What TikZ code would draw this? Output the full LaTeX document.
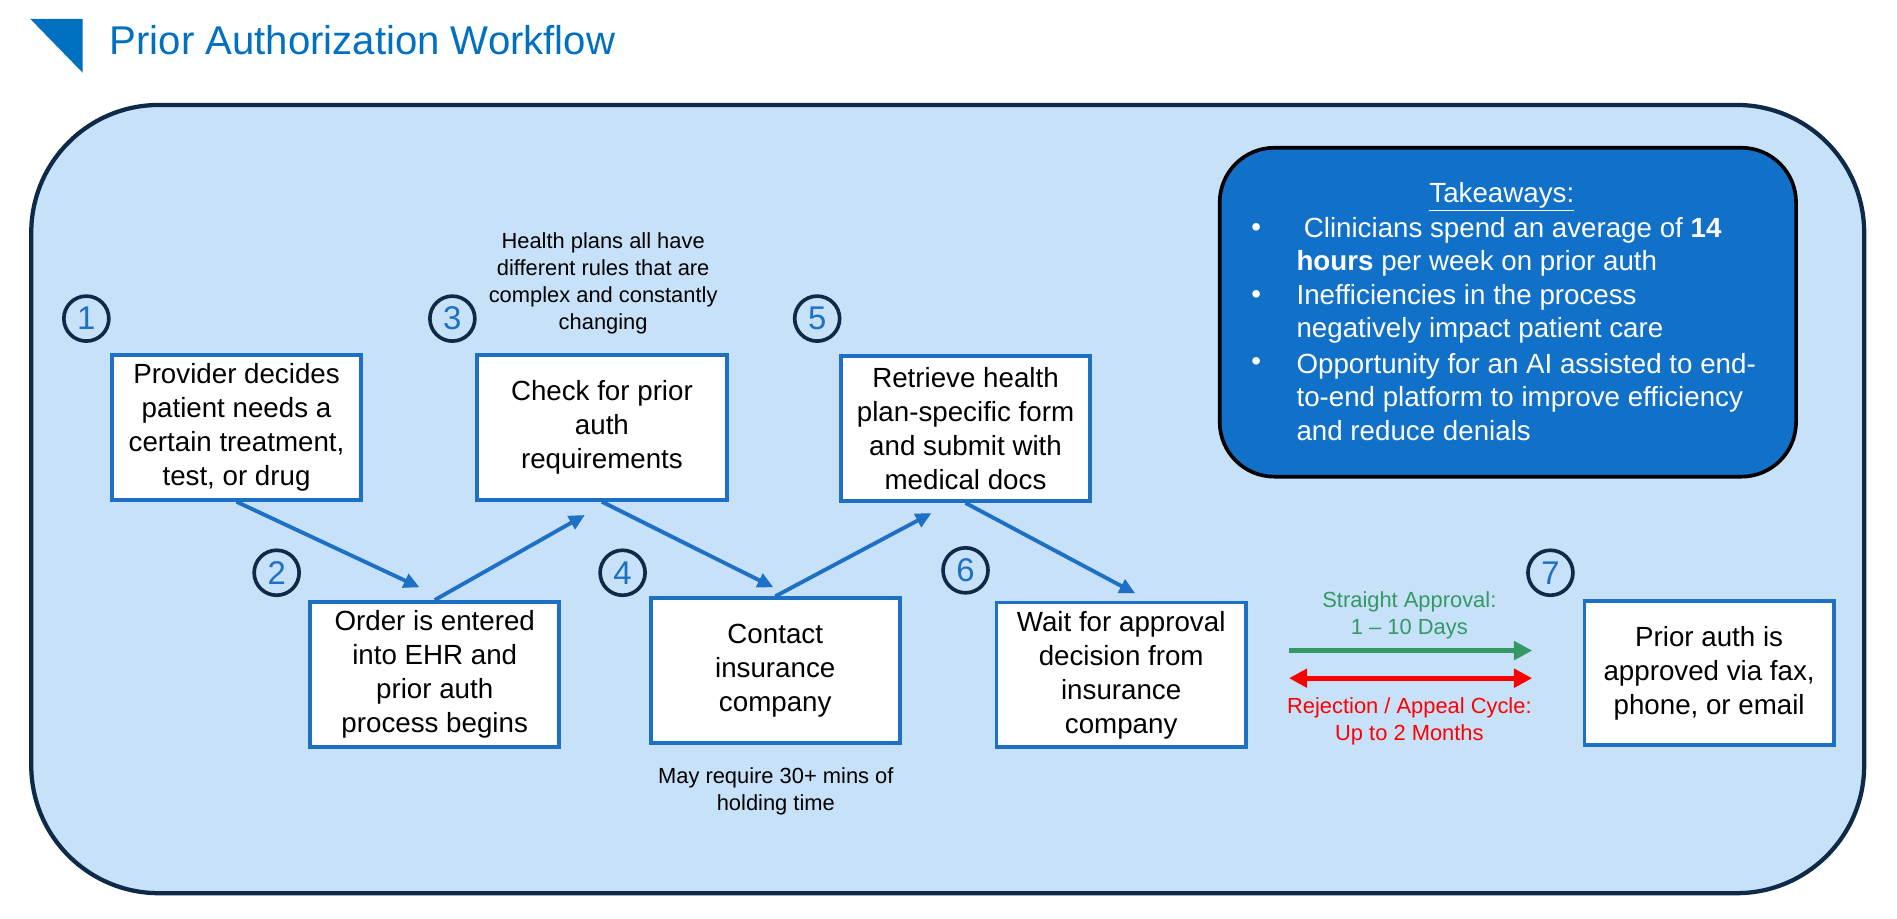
\documentclass[tikz,border=0pt]{standalone}
\usepackage{fontspec}
\setmainfont{Liberation Sans}
\usetikzlibrary{arrows.meta}
\definecolor{bgblue}{RGB}{199,225,248}
\definecolor{navy}{RGB}{14,42,72}
\definecolor{boxblue}{RGB}{30,112,196}
\definecolor{titleblue}{RGB}{0,112,192}
\definecolor{takeblue}{RGB}{17,112,200}
\definecolor{okgreen}{RGB}{52,152,100}
\definecolor{nored}{RGB}{255,0,0}
\begin{document}
\begin{tikzpicture}[x=1pt,y=-1pt,
  stepbox/.style={draw=boxblue, line width=3.2pt, fill=white, minimum width=205pt, minimum height=119pt, inner sep=0pt, align=center, font=\fontsize{22.8}{28}\selectfont},
  numc/.style={circle, draw=navy, line width=3pt, minimum size=37pt, inner sep=0pt, text=boxblue, font=\fontsize{27}{27}\selectfont},
  flow/.style={draw=boxblue, line width=3.2pt, -{Triangle[length=13pt,width=12pt]}},
  note/.style={align=center, font=\fontsize{18}{22}\selectfont, inner sep=0pt},
  tk/.style={text=white, inner sep=0pt, font=\fontsize{22.8}{27.4}\selectfont},
  bigarrow/.style={line width=4.4pt}
]
\useasboundingbox (0,0) rectangle (1560,755.7);
\fill[white] (0,0) rectangle (1560,755.7);

% title
\fill[titleblue] (25,15.6) -- (68,15.6) -- (68,59.8) -- cycle;
\node[anchor=base west, text=titleblue, font=\fontsize{33}{33}\selectfont, inner sep=0pt] (title) at (90,45.2) {Prior Authorization Workflow};

% panel
\draw[fill=bgblue, draw=navy, line width=3.5pt, rounded corners=105pt] (25.7,86.3) rectangle (1533,734.5);

% takeaways
\draw[fill=takeblue, draw=black, line width=3pt, rounded corners=45pt] (1003,121.5) rectangle (1477,392);
\node[tk] (tkhead) at (1235,161.7) {\underline{Takeaways:}};
\node[tk] (bu1) at (1033,189) {•};
\node[tk] (bu2) at (1033,244) {•};
\node[tk] (bu3) at (1033,299) {•};
\node[tk, anchor=west, align=left] (it1) at (1066,202.75) {\hspace*{6pt}Clinicians spend an average of \textbf{14}\\\textbf{hours} per week on prior auth};
\node[tk, anchor=west, align=left] (it2) at (1066,258) {Inefficiencies in the process\\negatively impact patient care};
\node[tk, anchor=west, align=left] (it3) at (1066,326.3) {Opportunity for an AI assisted to end-\\to-end platform to improve efficiency\\and reduce denials};

% step boxes
\node[stepbox] (b1) at (194.5,351.5) {Provider decides\\patient needs a\\certain treatment,\\test, or drug};
\node[stepbox] (b2) at (357.5,554.5) {Order is entered\\into EHR and\\prior auth\\process begins};
\node[stepbox] (b3) at (495,351.5) {Check for prior\\auth\\requirements};
\node[stepbox] (b4) at (637.5,551.5) {Contact\\insurance\\company};
\node[stepbox] (b5) at (794,352.5) {Retrieve health\\plan-specific form\\and submit with\\medical docs};
\node[stepbox] (b6) at (922,555) {Wait for approval\\decision from\\insurance\\company};
\node[stepbox] (b7) at (1405.5,553.5) {Prior auth is\\approved via fax,\\phone, or email};

% numbers
\node[numc] (n1) at (71,262) {1};
\node[numc] (n2) at (227.5,471) {2};
\node[numc] (n3) at (372,262) {3};
\node[numc] (n4) at (512,471) {4};
\node[numc] (n5) at (672,262) {5};
\node[numc] (n6) at (794,469) {6};
\node[numc] (n7) at (1275,471) {7};

% notes
\node[note] (note3) at (496,233) {Health plans all have\\different rules that are\\complex and constantly\\changing};
\node[note] (note4) at (638,651) {May require 30+ mins of\\holding time};

% flow arrows
\coordinate (t1) at (345,483);
\coordinate (t2) at (481,423.5);
\coordinate (t3) at (636,483);
\coordinate (t4) at (766,422);
\coordinate (t5) at (933.6,488);
\draw[flow] (b1.south) -- (t1);
\draw[flow] (b2.north) -- (t2);
\draw[flow] (b3.south) -- (t3);
\draw[flow] (b4.north) -- (t4);
\draw[flow] (b5.south) -- (t5);

% approval arrows
\coordinate (g1) at (1060,535);
\coordinate (g2) at (1260,535);
\coordinate (r1) at (1060,557.7);
\coordinate (r2) at (1260,557.7);
\draw[bigarrow, okgreen, -{Triangle[length=15pt,width=15pt]}] (g1) -- (g2);
\draw[bigarrow, nored, {Triangle[length=15pt,width=15pt]}-{Triangle[length=15pt,width=15pt]}] (r1) -- (r2);
\node[note, text=okgreen] (gtext) at (1159,506) {Straight Approval:\\1 – 10 Days};
\node[note, text=nored] (rtext) at (1159,593) {Rejection / Appeal Cycle:\\Up to 2 Months};
\end{tikzpicture}
\end{document}
